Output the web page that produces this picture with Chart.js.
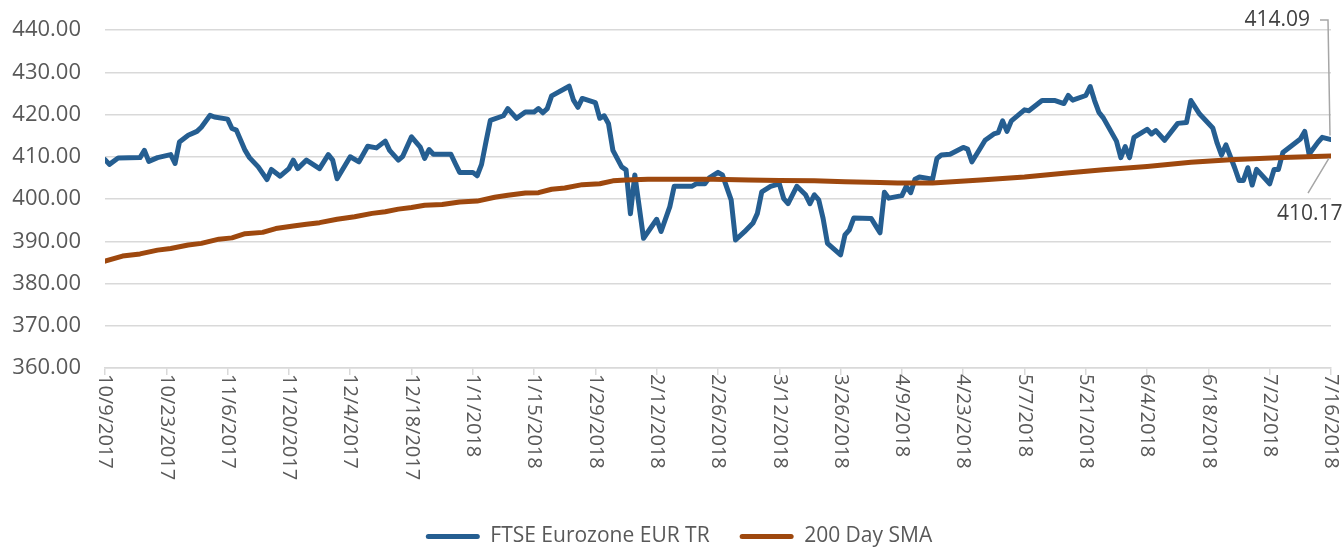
<!DOCTYPE html>
<html>
<head>
<meta charset="utf-8">
<script src="https://cdn.jsdelivr.net/npm/chart.js@4.4.1/dist/chart.umd.min.js"></script>
<style>
  html, body { margin: 0; padding: 0; background: #fff; }
  #wrap { width: 1343px; height: 547px; position: relative; }
</style>
</head>
<body>
<div id="wrap"><canvas id="smaChart"></canvas></div>
<script>
const START = new Date(2017, 9, 9);

// closes, keyed by calendar days after 10/9/2017
const ftseDays = [
  0, 1, 3, 8, 9, 10, 12, 15, 16, 17,
  19, 21, 22, 24, 25, 28, 29, 30, 32, 33,
  35, 37, 38, 40, 42, 43, 44, 46, 49, 51,
  52, 53, 56, 58, 60, 62, 64, 65, 67, 68,
  70, 72, 73, 74, 75, 79, 80, 81, 84, 85,
  86, 87, 88, 91, 92, 94, 96, 98, 99, 100,
  101, 102, 106, 107, 108, 109, 112, 113, 114, 115,
  116, 118, 119, 120, 121, 123, 126, 127, 129, 130,
  134, 135, 137, 138, 140, 141, 143, 144, 146, 148,
  149, 150, 152, 154, 155, 156, 158, 160, 161, 162,
  163, 164, 165, 168, 169, 170, 171, 175, 176, 177,
  178, 179, 182, 183, 184, 185, 186, 189, 190, 191,
  193, 196, 197, 198, 200, 201, 203, 204, 205, 206,
  207, 210, 211, 214, 217, 219, 220, 221, 224, 225,
  226, 227, 228, 231, 232, 233, 234, 235, 238, 239,
  240, 242, 245, 247, 248, 250, 253, 254, 255, 256,
  258, 259, 260, 261, 262, 263, 266, 267, 268, 269,
  271, 273, 274, 275, 277, 278, 280
];
const ftseValues = [
  409.3, 408.2, 409.7, 409.8, 411.5, 408.9, 409.8, 410.5, 408.4, 413.5,
  415.1, 416.0, 417.0, 419.8, 419.4, 418.9, 416.7, 416.3, 411.5, 409.8,
  407.6, 404.6, 407.0, 405.4, 407.2, 409.2, 407.2, 409.2, 407.2, 410.5,
  409.2, 404.8, 410.0, 408.8, 412.5, 412.1, 413.7, 411.5, 409.2, 410.1,
  414.7, 412.3, 409.6, 411.7, 410.6, 410.6, 408.4, 406.3, 406.3, 405.5,
  408.2, 413.5, 418.6, 419.7, 421.4, 419.1, 420.6, 420.6, 421.4, 420.4,
  421.4, 424.4, 426.7, 423.4, 421.7, 423.8, 422.8, 419.1, 419.7, 417.8,
  411.5, 407.6, 406.9, 396.5, 405.7, 390.7, 395.2, 392.3, 398.2, 403.0,
  403.0, 403.6, 403.6, 405.0, 406.3, 405.7, 399.8, 390.3, 392.2, 394.3,
  396.6, 401.7, 403.0, 403.6, 400.1, 398.9, 403.0, 401.0, 398.9, 401.0,
  399.8, 395.4, 389.5, 386.8, 391.5, 392.7, 395.5, 395.4, 393.7, 392.0,
  401.6, 400.2, 400.8, 403.0, 401.5, 404.7, 405.2, 404.7, 409.6, 410.4,
  410.6, 412.2, 411.8, 408.8, 412.2, 413.9, 415.4, 415.7, 418.5, 416.0,
  418.5, 421.1, 420.9, 423.3, 423.3, 422.6, 424.5, 423.4, 424.5, 426.6,
  423.3, 420.5, 419.2, 413.7, 409.8, 412.4, 409.8, 414.6, 416.5, 415.4,
  416.2, 413.9, 417.9, 418.1, 423.3, 420.1, 416.8, 413.2, 410.4, 412.8,
  407.4, 404.4, 404.4, 407.4, 403.3, 407.0, 403.6, 407.0, 407.0, 411.0,
  412.6, 414.2, 416.0, 410.6, 413.4, 414.6, 414.09
];

// 200 day simple moving average
const smaDays = [
  0, 4, 8, 12, 15, 19, 22, 26, 29, 32,
  36, 39, 43, 46, 49, 53, 57, 61, 64, 67,
  70, 73, 77, 81, 85, 89, 92, 96, 99, 102,
  105, 109, 113, 116, 119, 124, 131, 139, 147, 154,
  162, 169, 177, 181, 189, 200, 210, 219, 228, 238,
  248, 257, 269, 280
];
const smaValues = [
  385.3, 386.5, 387.0, 387.9, 388.3, 389.1, 389.5, 390.5, 390.8, 391.8,
  392.1, 393.0, 393.6, 394.0, 394.4, 395.2, 395.8, 396.6, 397.0, 397.6,
  398.0, 398.5, 398.7, 399.3, 399.5, 400.4, 400.9, 401.4, 401.5, 402.3,
  402.6, 403.4, 403.6, 404.3, 404.5, 404.7, 404.7, 404.7, 404.5, 404.4,
  404.3, 404.1, 403.9, 403.8, 403.8, 404.5, 405.2, 406.1, 406.9, 407.7,
  408.7, 409.3, 409.8, 410.17
];

const yMin = 360, yMax = 440, yStep = 10;
const tickEveryDays = 14;
const lastDay = 280;

const BLUE = '#255e91';
const ORANGE = '#9e480e';
const GRID = '#d9d9d9';
const TEXT = '#595959';
const FONT = "'Open Sans', sans-serif";

function dayLabel(n) {
  const d = new Date(START.getFullYear(), START.getMonth(), START.getDate() + n);
  return (d.getMonth() + 1) + '/' + d.getDate() + '/' + d.getFullYear();
}

function toPoints(days, values) {
  return days.map((d, i) => ({ x: d, y: values[i] }));
}

// date labels read top-to-bottom under each tick mark
const dateLabels = {
  id: 'dateLabels',
  afterDraw(chart) {
    const scale = chart.scales.x;
    const ctx = chart.ctx;
    ctx.save();
    ctx.font = '20px ' + FONT;
    ctx.fillStyle = TEXT;
    ctx.textAlign = 'left';
    ctx.textBaseline = 'middle';
    scale.ticks.forEach(t => {
      ctx.save();
      ctx.translate(scale.getPixelForValue(t.value), scale.top + 6);
      ctx.rotate(Math.PI / 2);
      ctx.fillText(dayLabel(t.value), 0, 0);
      ctx.restore();
    });
    ctx.restore();
  }
};

// nudge the legend row a little right of the canvas centre
const legendNudge = {
  id: 'legendNudge',
  afterLayout(chart) {
    if (chart.legend) chart.legend.left += 27;
  }
};

// callouts on the latest close and latest average
const lastValues = {
  id: 'lastValues',
  afterDatasetsDraw(chart) {
    const ctx = chart.ctx;
    const a = chart.getDatasetMeta(0).data.at(-1);
    const b = chart.getDatasetMeta(1).data.at(-1);
    const topY = chart.chartArea.top - 10;
    ctx.save();
    ctx.strokeStyle = '#a6a6a6';
    ctx.lineWidth = 1.5;
    ctx.beginPath();
    ctx.moveTo(a.x - 11, topY);
    ctx.lineTo(a.x - 3, topY);
    ctx.lineTo(a.x - 1, a.y - 4);
    ctx.moveTo(b.x - 23, b.y + 37);
    ctx.lineTo(b.x - 2, b.y + 2);
    ctx.stroke();
    ctx.font = '21px ' + FONT;
    ctx.fillStyle = '#404040';
    ctx.textBaseline = 'middle';
    ctx.textAlign = 'right';
    ctx.fillText(ftseValues.at(-1).toFixed(2), a.x - 21, topY);
    ctx.textAlign = 'left';
    ctx.fillText(smaValues.at(-1).toFixed(2), b.x - 54, b.y + 58);
    ctx.restore();
  }
};

new Chart(document.getElementById('smaChart'), {
  type: 'line',
  data: {
    datasets: [
      {
        label: 'FTSE Eurozone EUR TR',
        data: toPoints(ftseDays, ftseValues),
        borderColor: BLUE,
        backgroundColor: BLUE,
        borderWidth: 5,
        pointRadius: 0,
        borderJoinStyle: 'round',
        borderCapStyle: 'round',
        tension: 0,
        order: 1
      },
      {
        label: '200 Day SMA',
        data: toPoints(smaDays, smaValues),
        borderColor: ORANGE,
        backgroundColor: ORANGE,
        borderWidth: 5,
        pointRadius: 0,
        borderJoinStyle: 'round',
        borderCapStyle: 'round',
        tension: 0,
        order: 0
      }
    ]
  },
  options: {
    responsive: true,
    maintainAspectRatio: false,
    animation: false,
    layout: { padding: { top: 30, right: 12, bottom: -10, left: 0 } },
    plugins: {
      tooltip: { enabled: false },
      legend: {
        position: 'bottom',
        labels: {
          boxWidth: 54,
          boxHeight: 5,
          padding: 30,
          color: TEXT,
          font: { family: FONT, size: 21 },
          useBorderRadius: true,
          borderRadius: 2.5,
          sort: (a, b) => a.datasetIndex - b.datasetIndex,
          generateLabels(chart) {
            return Chart.defaults.plugins.legend.labels.generateLabels(chart).map(item => {
              item.fillStyle = item.strokeStyle;
              item.lineWidth = 0;
              return item;
            });
          }
        }
      }
    },
    scales: {
      x: {
        type: 'linear',
        min: 0,
        max: lastDay,
        ticks: { display: false, stepSize: tickEveryDays, autoSkip: false, maxTicksLimit: 40 },
        grid: { drawOnChartArea: false, drawTicks: true, tickLength: 7, color: GRID, lineWidth: 1.5 },
        border: { color: GRID, width: 1.5 },
        afterFit(scale) { scale.height = 128; }
      },
      y: {
        min: yMin,
        max: yMax,
        ticks: {
          stepSize: yStep,
          color: TEXT,
          padding: 24,
          font: { family: FONT, size: 22 },
          callback: v => v.toFixed(2)
        },
        grid: { color: GRID, lineWidth: 1.5, drawTicks: false },
        border: { display: false },
        afterFit(scale) {
          scale.width = 105;
          scale.paddingTop = 0;
          scale.paddingBottom = 0;
        }
      }
    }
  },
  plugins: [dateLabels, legendNudge, lastValues]
});
</script>
</body>
</html>
